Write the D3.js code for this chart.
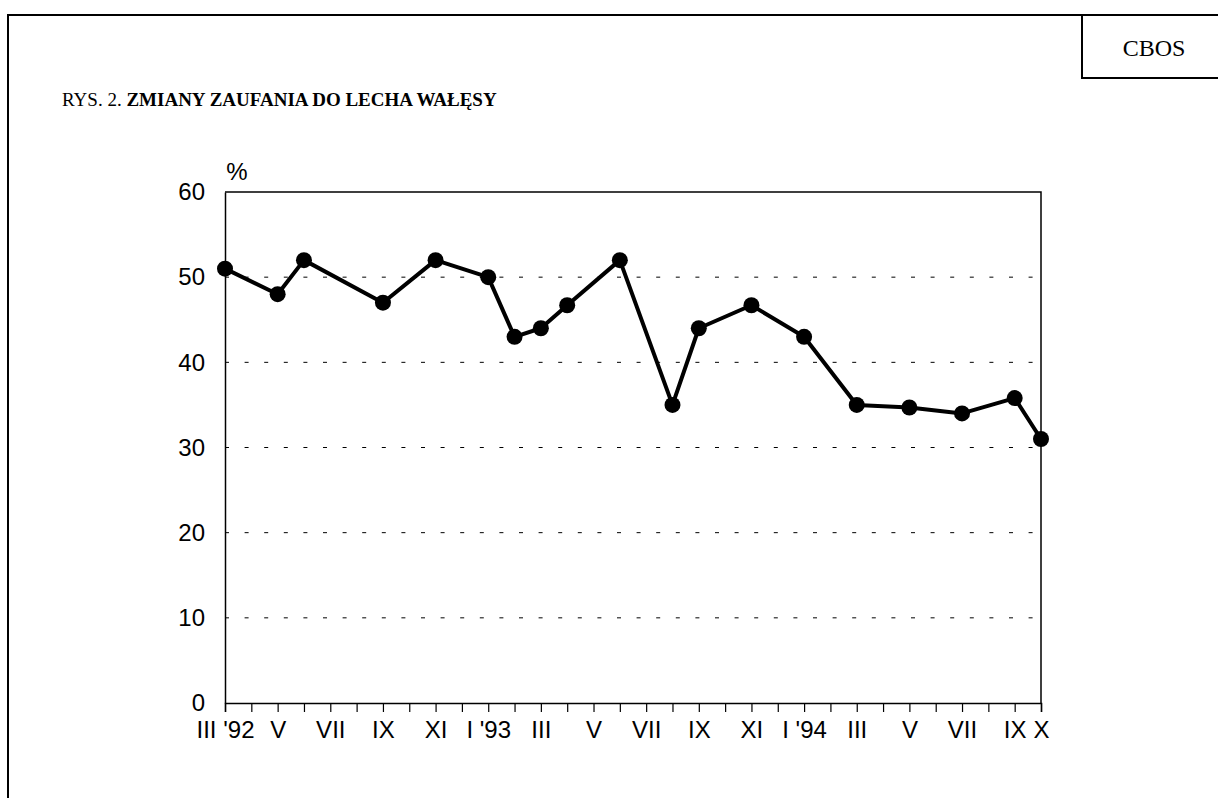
<!DOCTYPE html>
<html>
<head>
<meta charset="utf-8">
<script src="https://cdn.jsdelivr.net/npm/d3@7"></script>
<style>
  body { margin: 0; background: #fff; }
  svg { display: block; }
  .tick-label { font-family: "Liberation Sans", Arial, sans-serif; font-size: 24px; fill: #000; }
</style>
</head>
<body>
<div id="chart"></div>
<script>
// survey months (yyyy-mm) and trust in Lech Wałęsa (%)
const months = ["1992-03","1992-05","1992-06","1992-09","1992-11","1993-01","1993-02","1993-03","1993-04",
  "1993-06","1993-08","1993-09","1993-11","1994-01","1994-03","1994-05","1994-07","1994-09","1994-10"];
const trust = [51, 48, 52, 47, 52, 50, 43, 44, 46.7, 52, 35, 44, 46.7, 43, 35, 34.7, 34, 35.8, 31];

// labelled ticks on the month axis
const tickMonths = ["1992-03","1992-05","1992-07","1992-09","1992-11","1993-01","1993-03","1993-05","1993-07",
  "1993-09","1993-11","1994-01","1994-03","1994-05","1994-07","1994-09","1994-10"];
const tickLabels = ["III '92","V","VII","IX","XI","I '93","III","V","VII","IX","XI","I '94","III","V","VII","IX","X"];
const yTicks = [0, 10, 20, 30, 40, 50, 60];

const width = 1218, height = 798;
const margin = { top: 192, right: 177, bottom: 95, left: 225 };

// month count since March 1992
const monthIndex = s => {
  const [y, m] = s.split("-").map(Number);
  return (y - 1992) * 12 + (m - 3);
};

const svg = d3.select("#chart").append("svg")
  .attr("width", width)
  .attr("height", height);

// page frame
svg.append("path")
  .attr("d", "M8,798 L8,15 L1218,15")
  .attr("fill", "none").attr("stroke", "#000").attr("stroke-width", 2);
svg.append("path")
  .attr("d", "M1082,15 L1082,78 L1218,78")
  .attr("fill", "none").attr("stroke", "#000").attr("stroke-width", 2);
svg.append("text")
  .attr("x", 1154).attr("y", 56)
  .attr("text-anchor", "middle")
  .style("font-family", "'Liberation Serif', 'Times New Roman', serif")
  .style("font-size", "24px")
  .text("CBOS");

const title = svg.append("text")
  .attr("x", 62).attr("y", 106)
  .style("font-family", "'Liberation Serif', 'Times New Roman', serif")
  .style("font-size", "19px");
title.append("tspan").text("RYS. 2. ");
title.append("tspan").attr("font-weight", "bold").text("ZMIANY ZAUFANIA DO LECHA WAŁĘSY");

const xScale = d3.scaleLinear()
  .domain([0, 31])
  .range([margin.left, width - margin.right]);

const yScale = d3.scaleLinear()
  .domain([0, 60])
  .range([height - margin.bottom, margin.top]);

// dashed gridlines
svg.append("g")
  .selectAll("line")
  .data(yTicks.filter(d => d > 0 && d < 60))
  .enter()
  .append("line")
  .attr("x1", xScale(0)).attr("x2", xScale(31))
  .attr("y1", d => yScale(d)).attr("y2", d => yScale(d))
  .attr("stroke", "#000")
  .attr("stroke-width", 1)
  .attr("stroke-dasharray", "4,15.6");

// top and right border of the plot
svg.append("path")
  .attr("d", `M${xScale(0)},${yScale(60)} L${xScale(31)},${yScale(60)} L${xScale(31)},${yScale(0)}`)
  .attr("fill", "none").attr("stroke", "#000").attr("stroke-width", 1.5);

// y axis
const yAxis = d3.axisLeft(yScale).tickValues(yTicks).tickSize(0).tickPadding(20);
svg.append("g")
  .attr("transform", `translate(${margin.left},0)`)
  .call(yAxis)
  .call(g => g.select(".domain").attr("stroke-width", 1.5))
  .call(g => g.selectAll("text").attr("class", "tick-label").attr("font-size", null).attr("font-family", null));

// x axis: a tick every month, labels at chosen months
const allMonths = d3.range(0, 32);
const labelOf = new Map(tickMonths.map((m, i) => [monthIndex(m), tickLabels[i]]));
const xAxis = d3.axisBottom(xScale)
  .tickValues(allMonths)
  .tickSize(9)
  .tickPadding(9)
  .tickFormat(d => labelOf.get(d) || "");
svg.append("g")
  .attr("transform", `translate(0,${height - margin.bottom})`)
  .call(xAxis)
  .call(g => g.select(".domain").attr("stroke-width", 1.5))
  .call(g => g.selectAll("line").attr("stroke-width", 1.2))
  .call(g => g.selectAll("text").attr("class", "tick-label").attr("font-size", null).attr("font-family", null));

svg.append("text")
  .attr("class", "tick-label")
  .attr("x", 237).attr("y", 180)
  .attr("text-anchor", "middle")
  .text("%");

const data = months.map((m, i) => ({ x: monthIndex(m), v: trust[i] }));

const line = d3.line()
  .x(d => xScale(d.x))
  .y(d => yScale(d.v));

svg.append("path")
  .datum(data)
  .attr("fill", "none")
  .attr("stroke", "#000")
  .attr("stroke-width", 4)
  .attr("stroke-linejoin", "round")
  .attr("d", line);

svg.append("g")
  .selectAll("circle")
  .data(data)
  .enter()
  .append("circle")
  .attr("cx", d => xScale(d.x))
  .attr("cy", d => yScale(d.v))
  .attr("r", 8)
  .attr("fill", "#000");
</script>
</body>
</html>
